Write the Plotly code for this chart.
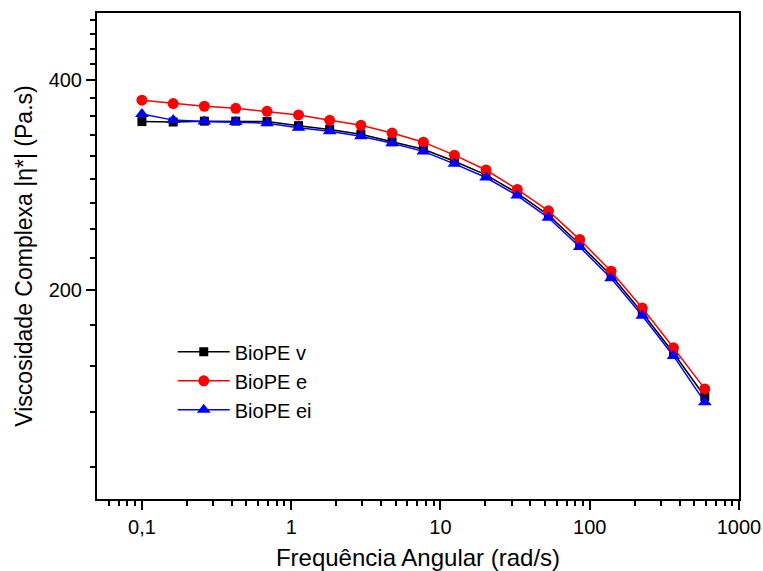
import plotly.graph_objects as go

# Angular frequency (rad/s)
freq = [0.1, 0.162, 0.262, 0.425, 0.689, 1.12, 1.81, 2.93, 4.74, 7.68,
        12.4, 20.2, 32.7, 52.9, 85.7, 139, 225, 364, 590]

# Complex viscosity |eta*| (Pa.s)
eta_v = [349.0, 348.5, 349.5, 349.5, 349.0, 344.3, 340.0, 334.6, 326.5, 318.4,
         306.0, 292.5, 275.4, 256.0, 232.5, 209.8, 185.3, 162.2, 140.4]
eta_e = [374.6, 370.5, 367.2, 364.7, 361.1, 356.8, 350.5, 344.7, 336.0, 326.0,
         312.3, 297.3, 278.8, 259.7, 236.1, 212.6, 188.2, 165.0, 144.0]
eta_ei = [357.8, 350.7, 349.0, 348.4, 347.2, 342.0, 338.1, 332.5, 324.8, 316.2,
          303.4, 290.0, 273.2, 253.8, 230.4, 207.8, 183.5, 160.6, 137.8]

names = ["BioPE v", "BioPE e", "BioPE ei"]
colors = ["#000000", "#ff0000", "#0000ff"]
symbols = ["square", "circle", "triangle-up"]
msizes = [9, 11, 12]

x_tickvals = [0.1, 1, 10, 100, 1000]
x_ticktext = ["0,1", "1", "10", "100", "1000"]
x_minor = [0.06, 0.07, 0.08, 0.09, 0.2, 0.3, 0.4, 0.5, 0.6, 0.7, 0.8, 0.9,
           2, 3, 4, 5, 6, 7, 8, 9, 20, 30, 40, 50, 60, 70, 80, 90,
           200, 300, 400, 500, 600, 700, 800, 900]
y_tickvals = [200, 400]
y_ticktext = ["200", "400"]
y_minor = [111.1, 133.3, 155.6, 177.8, 222.2, 244.4, 266.7, 288.9, 311.1,
           333.3, 355.6, 377.8, 422.2, 444.4, 466.7, 488.9]

fig = go.Figure()
for ys, nm, c, s, ms in zip([eta_v, eta_e, eta_ei], names, colors, symbols, msizes):
    fig.add_trace(go.Scatter(
        x=freq, y=ys, name=nm, mode="lines+markers",
        line=dict(color=c, width=1.5),
        marker=dict(symbol=s, size=ms, color=c, line=dict(width=0)),
    ))

font = "Liberation Sans, Arial, sans-serif"
fig.update_layout(
    width=763, height=571,
    margin=dict(l=97, r=24, t=13, b=72, autoexpand=False),
    paper_bgcolor="white", plot_bgcolor="white",
    font=dict(family=font, color="black", size=20),
    showlegend=True,
    legend=dict(x=0.118, y=0.343, xanchor="left", yanchor="top",
                bgcolor="rgba(0,0,0,0)", font=dict(size=20, family=font),
                tracegroupgap=0, itemwidth=52),
)
fig.update_xaxes(
    type="log", range=[-1.301, 3], automargin=False,
    tickmode="array", tickvals=x_tickvals, ticktext=x_ticktext,
    ticks="outside", ticklen=9, tickwidth=2, tickcolor="black",
    minor=dict(tickmode="array", tickvals=x_minor, ticks="outside",
               ticklen=5, tickwidth=2, tickcolor="black", showgrid=False),
    showline=True, linecolor="black", linewidth=2, mirror=True,
    showgrid=False, zeroline=False,
    tickfont=dict(size=20, family=font),
    title=dict(text="Frequência Angular (rad/s)", font=dict(size=24, family=font), standoff=14),
)
fig.update_yaxes(
    type="log", range=[2, 2.699], automargin=False,
    tickmode="array", tickvals=y_tickvals, ticktext=y_ticktext,
    ticks="outside", ticklen=9, tickwidth=2, tickcolor="black",
    minor=dict(tickmode="array", tickvals=y_minor, ticks="outside",
               ticklen=5, tickwidth=2, tickcolor="black", showgrid=False),
    showline=True, linecolor="black", linewidth=2, mirror=True,
    showgrid=False, zeroline=False,
    tickfont=dict(size=20, family=font),
    title=dict(text="Viscosidade Complexa |η*| (Pa.s)", font=dict(size=23, family=font), standoff=10),
)

fig.write_html("out.html",
               config={"displayModeBar": False},
               post_script="document.body.style.margin='0px';document.body.style.overflow='hidden';")
